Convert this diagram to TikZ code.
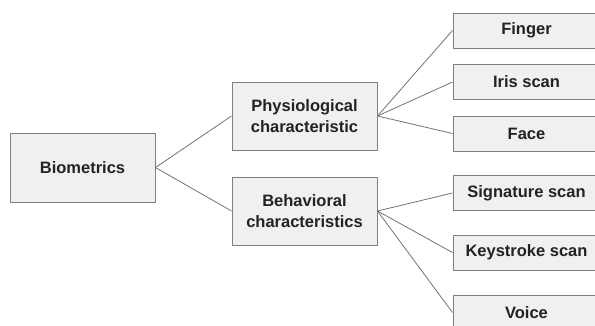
\documentclass[tikz,border=0pt]{standalone}
\usepackage{fontspec}
\setmainfont{Liberation Sans}
\usepackage{xcolor}
\definecolor{Col1}{RGB}{128,128,128}
\definecolor{Col2}{RGB}{240,240,240}
\definecolor{Col3}{RGB}{35,35,35}
\usepackage{tikz}
\tikzstyle{Box}=[rectangle,draw=Col1,fill=Col2,line width=1pt,inner sep=0pt,
text=Col3,align=center,font=\fontsize{16.5}{21}\selectfont\bfseries]
\tikzstyle{BigBox}=[Box,minimum width=145pt,minimum height=68pt]
\tikzstyle{LeafBox}=[Box,minimum width=147pt,minimum height=35pt]
\tikzstyle{Edge}=[draw=Col1!90!black,line width=0.8pt]

\begin{document}
\begin{tikzpicture}[x=1pt,y=-1pt]
        \useasboundingbox(0,0)rectangle(595,325);
        \node[BigBox,minimum height=69pt](Bio)at(82.5,167.5){Biometrics};
        \node[BigBox](Phys)at(304.5,116){Physiological\\characteristic};
        \node[BigBox](Behav)at(304.5,211){Behavioral\\characteristics};
        \node[LeafBox](Finger)at(526.5,30.5){Finger};
        \node[LeafBox](Iris)at(526.5,82){Iris scan};
        \node[LeafBox](Face)at(526.5,133.5){Face};
        \node[LeafBox](Sign)at(526.5,193){Signature scan};
        \node[LeafBox](Key)at(526.5,252.5){Keystroke scan};
        \node[LeafBox](Voice)at(526.5,312.5){Voice};
        \draw[Edge](Bio.east)--(Phys.west);
        \draw[Edge](Bio.east)--(Behav.west);
        \draw[Edge](Phys.east)--(Finger.west);
        \draw[Edge](Phys.east)--(Iris.west);
        \draw[Edge](Phys.east)--(Face.west);
        \draw[Edge](Behav.east)--(Sign.west);
        \draw[Edge](Behav.east)--(Key.west);
        \draw[Edge](Behav.east)--(Voice.west);
    \end{tikzpicture}
\end{document}
